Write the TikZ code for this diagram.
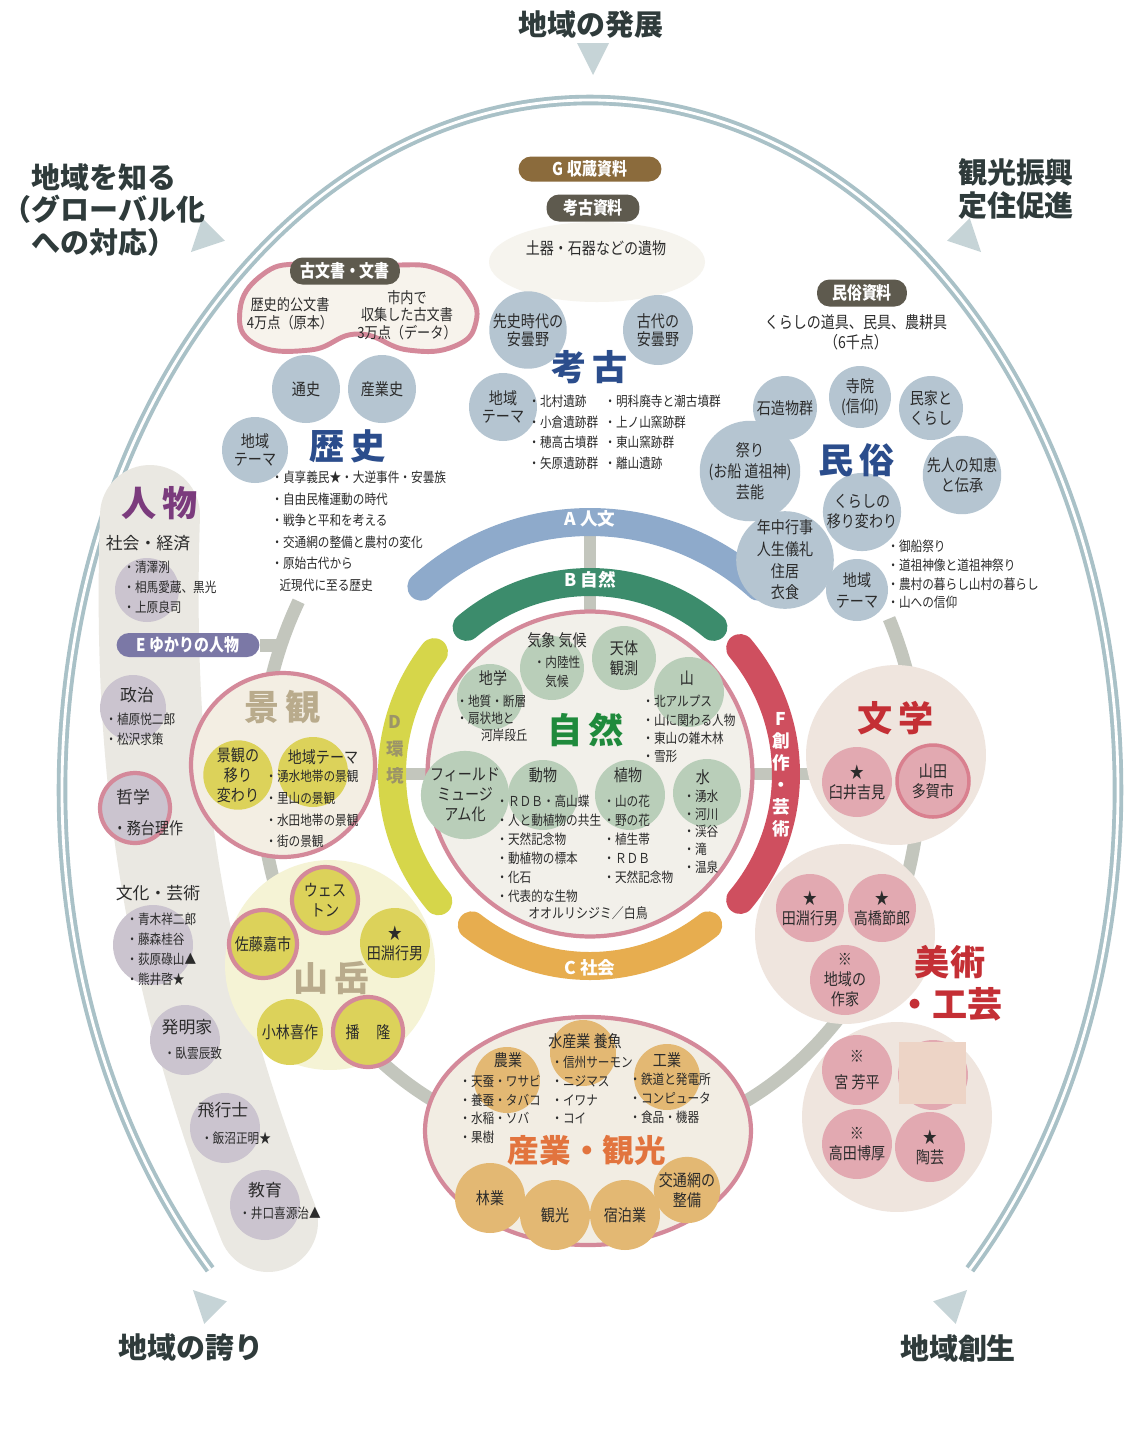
\documentclass[tikz,border=0pt]{standalone}
\usepackage{fontspec}
\setmainfont{Noto Sans CJK JP}
\newfontfamily\condfont{Noto Sans CJK JP}[FakeStretch=0.85]
\usetikzlibrary{positioning,calc}

\definecolor{ink}{HTML}{2B2B2B}
\definecolor{cornerink}{HTML}{2F3B3B}
\definecolor{outerc}{HTML}{A9C1C7}
\definecolor{arrowc}{HTML}{C6D4D7}
\definecolor{ringc}{HTML}{C3C6BD}
\definecolor{pinkline}{HTML}{D4899A}
\definecolor{bluec}{HTML}{B5C5D1}
\definecolor{headblue}{HTML}{2B4D8C}
\definecolor{greenc}{HTML}{B9CEB9}
\definecolor{natgreen}{HTML}{1F8A3C}
\definecolor{orangec}{HTML}{E3B873}
\definecolor{indorange}{HTML}{E2743E}
\definecolor{yelc}{HTML}{DCD25A}
\definecolor{pinkc}{HTML}{E2A9B1}
\definecolor{artred}{HTML}{C42F35}
\definecolor{purplec}{HTML}{CBC4CF}
\definecolor{personc}{HTML}{7B3B7D}
\definecolor{tanhead}{HTML}{B9AB8C}
\definecolor{arcA}{HTML}{8EAACB}
\definecolor{arcB}{HTML}{3C8C6C}
\definecolor{arcC}{HTML}{E7AD4F}
\definecolor{arcD}{HTML}{D6D64A}
\definecolor{arcF}{HTML}{CF4F5F}
\definecolor{dtext}{HTML}{9C9468}
\definecolor{brownbadge}{HTML}{8B6B3C}
\definecolor{greybadge}{HTML}{5E5A4E}
\definecolor{purplebadge}{HTML}{7B78A6}
\definecolor{bandc}{HTML}{EAE8E2}
\definecolor{keibg}{HTML}{F3EEE3}
\definecolor{sanbg}{HTML}{F5F3D5}
\definecolor{artbg}{HTML}{EFE5DE}
\definecolor{natbg}{HTML}{F2F0EA}
\definecolor{indbg}{HTML}{F2EDE3}
\definecolor{beanbg}{HTML}{F7F3EC}
\definecolor{koubg}{HTML}{F6F4EE}
\definecolor{maskc}{HTML}{EDD4C6}
\definecolor{darkpink}{HTML}{D9808F}

\newcommand\labfont{\condfont\fontsize{9.4}{11.4}\selectfont}
\newcommand\catfont{\fontsize{9.6}{12}\selectfont}
\newcommand\headfont{\fontsize{20}{22}\selectfont\bfseries}
\newcommand\cornerfont{\fontsize{16.5}{18.4}\selectfont\bfseries}
\newcommand\badgefont{\condfont\fontsize{10}{12}\selectfont\bfseries}

\tikzset{
  bub/.style={circle, inner sep=0pt, minimum size=#1, align=center, font=\labfont, text=ink},
  txt/.style={inner sep=0pt, align=center, font=\labfont, text=ink},
  lst/.style={inner sep=0pt, align=left, anchor=north west, text=ink, font={\condfont\fontsize{7.8}{#1}\selectfont}},
  lst/.default=11pt,
  head/.style={inner sep=0pt, font=\headfont, text=#1},
  corner/.style={inner sep=0pt, align=center, font=\cornerfont, text=cornerink},
  pill/.style={rectangle, rounded corners=0.25cm, fill=#1, text=white, font=\badgefont, minimum height=0.5cm, inner xsep=5pt, inner ysep=0pt},
  band/.style={draw=#1, line width=0.56cm, line cap=round},
  arclbl/.style={inner sep=0pt, align=center, text=white, font=\fontsize{10}{12}\selectfont\bfseries},
  ringline/.style={draw=ringc, line width=0.26cm},
  spoke/.style={draw=ringc, line width=0.24cm},
  pinkring/.style={draw=pinkline, line width=2.4pt},
  arrowtip/.style={fill=arrowc},
}

\begin{document}
\begin{tikzpicture}[x=0.02cm, y=-0.02cm]
  \useasboundingbox (0,0) rectangle (1129,1438);
  \fill[white] (0,0) rectangle (1129,1438);

  % outer ring and the five directions
  \draw[draw=outerc, line width=2.2pt, double=white, double distance=1.6pt] (590,790) ++(136:528 and 690) arc[start angle=136, end angle=404, x radius=528, y radius=690];
  \foreach \px/\py/\ang in {593/58/270, 203/240/225, 969/240/315, 205/1302/135, 955/1302/45}
    \fill[arrowtip, shift={(\px,\py)}, rotate=\ang] (17,0) -- (-15,-16) -- (-15,16) -- cycle;
  \node[corner] (hatten) at (591,25) {地域の発展};
  \node[corner] (shiru) at (104,210) {地域を知る\\（グローバル化\\への対応）};
  \node[corner] (shinko) at (1016,189) {観光振興\\定住促進};
  \node[corner] (hokori) at (191,1347) {地域の誇り};
  \node[corner] (sosei) at (958,1348) {地域創生};

  % centres
  \coordinate (natc) at (590,774);
  \coordinate (keic) at (283,765);
  \coordinate (bunc) at (896,755);
  \coordinate (spokeTop) at (590,528);
  \coordinate (ringE) at (284,645);

  % grey ring and spokes
  \draw[ringline] (590,775) ++(-25:330 and 370) arc[start angle=-25, end angle=208, x radius=330, y radius=370];
  \draw[spoke] (natc) -- (spokeTop);
  \draw[spoke] (natc) -- (natc -| keic);
  \draw[spoke] (natc) -- (natc -| bunc);

  % band of the people column
  \draw[draw=bandc, line width=2cm, line cap=round] (150,515) .. controls (143,730) and (160,950) .. (268,1222);

  % fields A to F
  \draw[band=arcA] (natc) ++(228:252) arc[start angle=228, end angle=312, radius=252];
  \draw[band=arcB] (natc) ++(230:192) arc[start angle=230, end angle=310, radius=192];
  \draw[band=arcC] (natc) ++(52:192) arc[start angle=52, end angle=128, radius=192];
  \draw[band=arcD] (natc) ++(140:198) arc[start angle=140, end angle=218, radius=198];
  \draw[band=arcF] (natc) ++(-40:196) arc[start angle=-40, end angle=40, radius=196];
  \node[arclbl] (lblA) at (590,519) {A 人文};
  \node[arclbl] (lblB) at (590,580) {B 自然};
  \node[arclbl] (lblC) at (590,968) {C 社会};
  \node[arclbl, text=dtext, font=\fontsize{10}{15.5}\selectfont\bfseries] (lblD) at (395,750) {D\\環\\境};
  \node[arclbl, font=\fontsize{10}{12.5}\selectfont\bfseries] (lblF) at (781,775) {F\\創\\作\\・\\芸\\術};

  % nature
  \node[circle, minimum size=6.5cm, fill=natbg, pinkring] (nat) at (natc) {};
  \node[bub=1.28cm, fill=greenc] (kisho) at (552,668) {};
  \node[txt] (kishoT) at (557,640) {気象 気候};
  \node[txt, font=\condfont\fontsize{7.8}{10.5}\selectfont] (kishoL) at (557,672) {・内陸性\\気候};
  \node[bub=1.28cm, fill=greenc] (tentai) at (624,658) {天体\\観測};
  \node[bub=1.32cm, fill=greenc] (chigaku) at (490,697) {};
  \node[txt] (chigakuT) at (493,678) {地学};
  \node[lst=9.5pt] (chigakuL) at (456,695) {・地質・断層\\・扇状地と\\\hspace*{1.8em}河岸段丘};
  \node[bub=1.4cm, fill=greenc] (yama) at (689,692) {};
  \node[txt] (yamaT) at (687,678) {山};
  \node[lst=10.4pt] (yamaL) at (642,695) {・北アルプス\\・山に関わる人物\\・東山の雑木林\\・雪形};
  \node[head=natgreen] (natHead) at (586,730) {自\,然};
  \node[bub=1.4cm, fill=greenc] (field) at (465,795) {フィールド\\ミュージ\\アム化};
  \node[bub=1.4cm, fill=greenc] (dobutsu) at (543,795) {};
  \node[txt] (dobutsuT) at (543,775) {動物};
  \node[lst=10.8pt] (dobutsuL) at (496,795) {・ＲＤＢ・高山蝶\\・人と動植物の共生\\・天然記念物\\・動植物の標本\\・化石\\・代表的な生物};
  \node[txt, font=\condfont\fontsize{8}{9}\selectfont] (ooruri) at (588,913) {オオルリシジミ／白鳥};
  \node[bub=1.4cm, fill=greenc] (shokubutsu) at (630,795) {};
  \node[txt] (shokubutsuT) at (628,775) {植物};
  \node[lst=10.8pt] (shokubutsuL) at (603,795) {・山の花\\・野の花\\・植生帯\\・ＲＤＢ\\・天然記念物};
  \node[bub=1.36cm, fill=greenc] (mizu) at (707,793) {};
  \node[txt] (mizuT) at (703,777) {水};
  \node[lst=10pt] (mizuL) at (683,790) {・湧水\\・河川\\・渓谷\\・滝\\・温泉};

  % history
  \draw[pinkring, line width=2.8pt, fill=beanbg] plot[smooth cycle, tension=0.8] coordinates {(240,310) (262,275) (300,264) (350,272) (400,265) (440,270) (468,292) (476,322) (455,346) (408,350) (358,334) (310,350) (255,344)};
  \node[pill=greybadge, minimum width=2.2cm, minimum height=0.54cm] (kobun) at (345,271) {古文書・文書};
  \node[txt, font=\condfont\fontsize{8.8}{10.3}\selectfont] (kobunA) at (290,314) {歴史的公文書\\4万点（原本）};
  \node[txt, font=\condfont\fontsize{8.8}{9.8}\selectfont] (kobunB) at (407,315) {市内で\\収集した古文書\\3万点（データ）};
  \node[bub=1.36cm, fill=bluec] (tsushi) at (306,389) {通史};
  \node[bub=1.36cm, fill=bluec] (sangyoshi) at (382,389) {産業史};
  \node[bub=1.32cm, fill=bluec, font=\condfont\fontsize{9.4}{10}\selectfont] (rekiTheme) at (255,450) {地域\\テーマ};
  \node[head=headblue] (rekiHead) at (348,446) {歴\,史};
  \node[lst=12.2pt] (rekiL) at (271,471) {・貞享義民★・大逆事件・安曇族\\・自由民権運動の時代\\・戦争と平和を考える\\・交通網の整備と農村の変化\\・原始古代から\\\hspace*{0.6em}近現代に至る歴史};

  % archaeology
  \fill[koubg] (597,262) ellipse [x radius=108, y radius=40];
  \node[pill=brownbadge, minimum width=2.86cm] (gbadge) at (590,169) {G 収蔵資料};
  \node[pill=greybadge, minimum width=1.86cm, minimum height=0.54cm] (kokoBadge) at (593,208) {考古資料};
  \node[txt] (ibutsu) at (596,248) {土器・石器などの遺物};
  \node[bub=1.4cm, fill=bluec, font=\condfont\fontsize{9.4}{10.3}\selectfont] (senshi) at (528,330) {先史時代の\\安曇野};
  \node[bub=1.4cm, fill=bluec, font=\condfont\fontsize{9.4}{10.3}\selectfont] (kodai) at (658,330) {古代の\\安曇野};
  \node[head=headblue] (kokoHead) at (590,367) {考\,古};
  \node[bub=1.36cm, fill=bluec, font=\condfont\fontsize{9.4}{10}\selectfont] (kokoTheme) at (503,407) {地域\\テーマ};
  \node[lst=11.6pt] (kokoLA) at (528,395) {・北村遺跡\\・小倉遺跡群\\・穂高古墳群\\・矢原遺跡群};
  \node[lst=11.6pt] (kokoLB) at (604,395) {・明科廃寺と潮古墳群\\・上ノ山窯跡群\\・東山窯跡群\\・離山遺跡};

  % folk customs
  \node[pill=greybadge, minimum width=1.8cm, minimum height=0.54cm] (minBadge) at (862,293) {民俗資料};
  \node[txt] (minTools) at (856,332) {くらしの道具、民具、農耕具\\（6千点）};
  \node[bub=1.28cm, fill=bluec] (sekizo) at (785,408) {石造物群};
  \node[bub=1.24cm, fill=bluec] (jiin) at (860,397) {寺院\\(信仰)};
  \node[bub=1.28cm, fill=bluec] (minka) at (931,408) {民家と\\くらし};
  \node[bub=1.4cm, fill=bluec, font=\condfont\fontsize{9.4}{12}\selectfont] (matsuri) at (750,471) {祭り\\(お船 道祖神)\\芸能};
  \node[bub=1.4cm, fill=bluec] (senjin) at (962,475) {先人の知恵\\と伝承};
  \node[bub=1.32cm, fill=bluec] (utsuri) at (862,512) {くらしの\\移り変わり};
  \node[head=headblue] (minHead) at (857,460) {民\,俗};
  \node[bub=1.6cm, fill=bluec, font=\condfont\fontsize{9.4}{12.3}\selectfont] (nenju) at (785,560) {年中行事\\人生儀礼\\住居\\衣食};
  \node[bub=1.24cm, fill=bluec, font=\condfont\fontsize{9.4}{12}\selectfont] (minTheme) at (857,590) {地域\\テーマ};
  \node[lst=10.6pt] (minL) at (887,540) {・御船祭り\\・道祖神像と道祖神祭り\\・農村の暮らし山村の暮らし\\・山への信仰};

  % people
  \node[head=personc] (jinHead) at (160,503) {人\,物};
  \node[circle, minimum size=1.28cm, fill=purplec] (shakaiBub) at (147,590) {};
  \node[txt, font=\catfont] (shakai) at (148,543) {社会・経済};
  \node[lst=11.4pt] (shakaiL) at (123,561) {・清澤洌\\・相馬愛蔵、黒光\\・上原良司};
  \node[pill=purplebadge, minimum width=2.86cm, minimum height=0.48cm] (ebadge) at (188,645) {E ゆかりの人物};
  \draw[ringline] (ebadge.east) -- (ringE);
  \node[circle, minimum size=1.32cm, fill=purplec] (seijiBub) at (133,708) {};
  \node[txt, font=\catfont] (seiji) at (137,695) {政治};
  \node[lst=11.4pt] (seijiL) at (105,713) {・植原悦二郎\\・松沢求策};
  \node[circle, minimum size=1.4cm, fill=purplec, pinkring] (tetsuBub) at (135,808) {};
  \node[txt, font=\catfont] (tetsu) at (133,797) {哲学};
  \node[txt] (tetsuL) at (148,828) {・務台理作};
  \node[circle, minimum size=1.6cm, fill=purplec] (bunkaBub) at (153,945) {};
  \node[txt, font=\catfont] (bunka) at (158,893) {文化・芸術};
  \node[lst=11.4pt] (bunkaL) at (126,913) {・青木祥二郎\\・藤森桂谷\\・荻原碌山▲\\・熊井啓★};
  \node[circle, minimum size=1.4cm, fill=purplec] (hatsuBub) at (185,1040) {};
  \node[txt, font=\catfont] (hatsu) at (187,1027) {発明家};
  \node[txt, font=\condfont\fontsize{7.8}{9}\selectfont] (hatsuL) at (193,1053) {・臥雲辰致};
  \node[circle, minimum size=1.4cm, fill=purplec] (hikoBub) at (225,1128) {};
  \node[txt, font=\catfont] (hiko) at (223,1110) {飛行士};
  \node[txt, font=\condfont\fontsize{7.8}{9}\selectfont] (hikoL) at (236,1138) {・飯沼正明★};
  \node[circle, minimum size=1.4cm, fill=purplec] (kyoBub) at (265,1205) {};
  \node[txt, font=\catfont] (kyo) at (265,1190) {教育};
  \node[txt, font=\condfont\fontsize{7.8}{9}\selectfont] (kyoL) at (280,1213) {・井口喜源治▲};

  % landscape
  \node[circle, minimum size=3.68cm, fill=keibg, pinkring] (keikan) at (keic) {};
  \node[head=tanhead] (keiHead) at (283,707) {景\,観};
  \node[bub=1.32cm, fill=yelc] (keiUtsuri) at (238,775) {景観の\\移り\\変わり};
  \node[bub=1.4cm, fill=yelc] (keiTheme) at (313,772) {};
  \node[txt] (keiThemeT) at (323,757) {地域テーマ};
  \node[lst=12.3pt] (keiL) at (265,770) {・湧水地帯の景観\\・里山の景観\\・水田地帯の景観\\・街の景観};

  % mountains
  \node[circle, minimum size=4.2cm, fill=sanbg] (sangaku) at (330,965) {};
  \node[head=tanhead] (gakuHead) at (332,978) {山\,岳};
  \node[bub=1.32cm, fill=yelc, pinkring] (weston) at (325,900) {ウェス\\トン};
  \node[bub=1.36cm, fill=yelc, pinkring] (sato) at (263,944) {佐藤嘉市};
  \node[bub=1.4cm, fill=yelc] (tabuchiY) at (395,943) {★\\田淵行男};
  \node[bub=1.32cm, fill=yelc] (kobayashi) at (290,1032) {小林喜作};
  \node[bub=1.4cm, fill=yelc, pinkring] (banryu) at (368,1032) {播\quad 隆};

  % literature and art
  \node[circle, minimum size=3.6cm, fill=artbg] (bungaku) at (bunc) {};
  \node[head=artred] (bunHead) at (896,718) {文\,学};
  \node[bub=1.4cm, fill=pinkc] (usui) at (857,782) {★\\臼井吉見};
  \node[bub=1.44cm, fill=pinkc, draw=darkpink, line width=2pt] (yamada) at (933,781) {山田\\多賀市};
  \node[circle, minimum size=3.6cm, fill=artbg] (bijutsu) at (845,934) {};
  \node[bub=1.36cm, fill=pinkc] (tabuchiP) at (810,908) {★\\田淵行男};
  \node[bub=1.36cm, fill=pinkc] (takahashi) at (882,908) {★\\高橋節郎};
  \node[bub=1.4cm, fill=pinkc] (sakka) at (845,980) {※\\地域の\\作家};
  \node[head=artred, align=center, font=\fontsize{20}{24}\selectfont\bfseries] (bijHead) at (950,983) {美術\\・工芸};
  \node[circle, minimum size=3.8cm, fill=artbg] (kogei) at (897,1117) {};
  \node[bub=1.4cm, fill=pinkc, font=\condfont\fontsize{9.4}{15}\selectfont] (miya) at (857,1070) {※\\宮 芳平};
  \node[bub=1.4cm, fill=pinkc] (masked) at (933,1075) {};
  \fill[maskc] (899,1042) rectangle (966,1104);
  \node[bub=1.4cm, fill=pinkc] (takata) at (857,1144) {※\\高田博厚};
  \node[bub=1.4cm, fill=pinkc] (touge) at (930,1147) {★\\陶芸};

  % industry and tourism
  \draw[pinkring, fill=indbg] (588,1131) ellipse [x radius=163, y radius=114];
  \node[bub=1.32cm, fill=orangec] (nogyo) at (507,1080) {};
  \node[txt] (nogyoT) at (508,1060) {農業};
  \node[lst=10.6pt] (nogyoL) at (459,1075) {・天蚕・ワサビ\\・養蚕・タバコ\\・水稲・ソバ\\・果樹};
  \node[bub=1.32cm, fill=orangec] (suisan) at (583,1053) {};
  \node[txt] (suisanT) at (585,1041) {水産業 養魚};
  \node[lst=10.6pt] (suisanL) at (551,1056) {・信州サーモン\\・ニジマス\\・イワナ\\・コイ};
  \node[bub=1.32cm, fill=orangec] (kogyo) at (667,1077) {};
  \node[txt] (kogyoT) at (667,1060) {工業};
  \node[lst=10.6pt] (kogyoL) at (629,1073) {・鉄道と発電所\\・コンピュータ\\・食品・機器};
  \node[head=indorange, font=\fontsize{18}{20}\selectfont\bfseries] (indHead) at (587,1150) {産業・観光};
  \node[bub=1.4cm, fill=orangec] (ringyo) at (490,1198) {林業};
  \node[bub=1.4cm, fill=orangec] (kanko) at (555,1215) {観光};
  \node[bub=1.4cm, fill=orangec] (shukuhaku) at (625,1215) {宿泊業};
  \node[bub=1.32cm, fill=orangec] (kotsu) at (687,1190) {交通網の\\整備};
\end{tikzpicture}
\end{document}
